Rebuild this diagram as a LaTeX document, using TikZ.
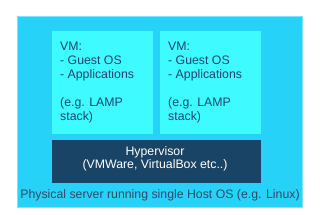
\documentclass[tikz,border=0pt]{standalone}
\usepackage{fontspec}
\setmainfont{Liberation Sans}
\definecolor{outerfill}{HTML}{27D2F8}
\definecolor{outerline}{HTML}{7FE3FA}
\definecolor{vmfill}{HTML}{3DFBFF}
\definecolor{hypfill}{HTML}{1A4466}
\definecolor{navytext}{HTML}{1E4470}
\definecolor{greytext}{HTML}{2A4C6A}
\tikzset{
  outerbox/.style={fill=outerfill, draw=outerline, line width=0.8pt},
  vmbox/.style={fill=vmfill, draw=none},
  hypbox/.style={fill=hypfill, draw=none},
  vmtext/.style={anchor=base west, inner sep=0pt, align=left, text=navytext,
    font=\fontsize{12.3}{14}\selectfont},
  hyptext/.style={anchor=base, inner sep=0pt, align=center, text=white,
    font=\fontsize{12.3}{13.4}\selectfont},
  bottomtext/.style={anchor=base, inner sep=0pt, text=greytext,
    font=\fontsize{12.3}{14}\selectfont}
}
\begin{document}
\begin{tikzpicture}[x=1pt,y=-1pt]
\useasboundingbox (0,0) rectangle (320,214);
\fill[white] (0,0) rectangle (320,214);
\node[outerbox, minimum width=285pt, minimum height=191pt, inner sep=0pt, anchor=north west] (outer) at (17.3,16) {};
\node[vmbox, minimum width=101pt, minimum height=103pt, inner sep=0pt, anchor=north west] (vm1) at (52,31) {};
\node[vmbox, minimum width=101pt, minimum height=103pt, inner sep=0pt, anchor=north west] (vm2) at (160,31) {};
\node[hypbox, minimum width=209pt, minimum height=43pt, inner sep=0pt, anchor=north west] (hyp) at (52,140) {};
\node[vmtext] (vm1t) at (60,120) {VM:\\- Guest OS\\- Applications\\[14pt](e.g. LAMP\\stack)};
\node[vmtext] (vm2t) at (168,120) {VM:\\- Guest OS\\- Applications\\[14pt](e.g. LAMP\\stack)};
\node[hyptext] (hypt) at (155,168.4) {Hypervisor\\(VMWare, VirtualBox etc..)};
\node[bottomtext] (bt) at (160,198.3) {Physical server running single Host OS (e.g. Linux)};
\end{tikzpicture}
\end{document}
